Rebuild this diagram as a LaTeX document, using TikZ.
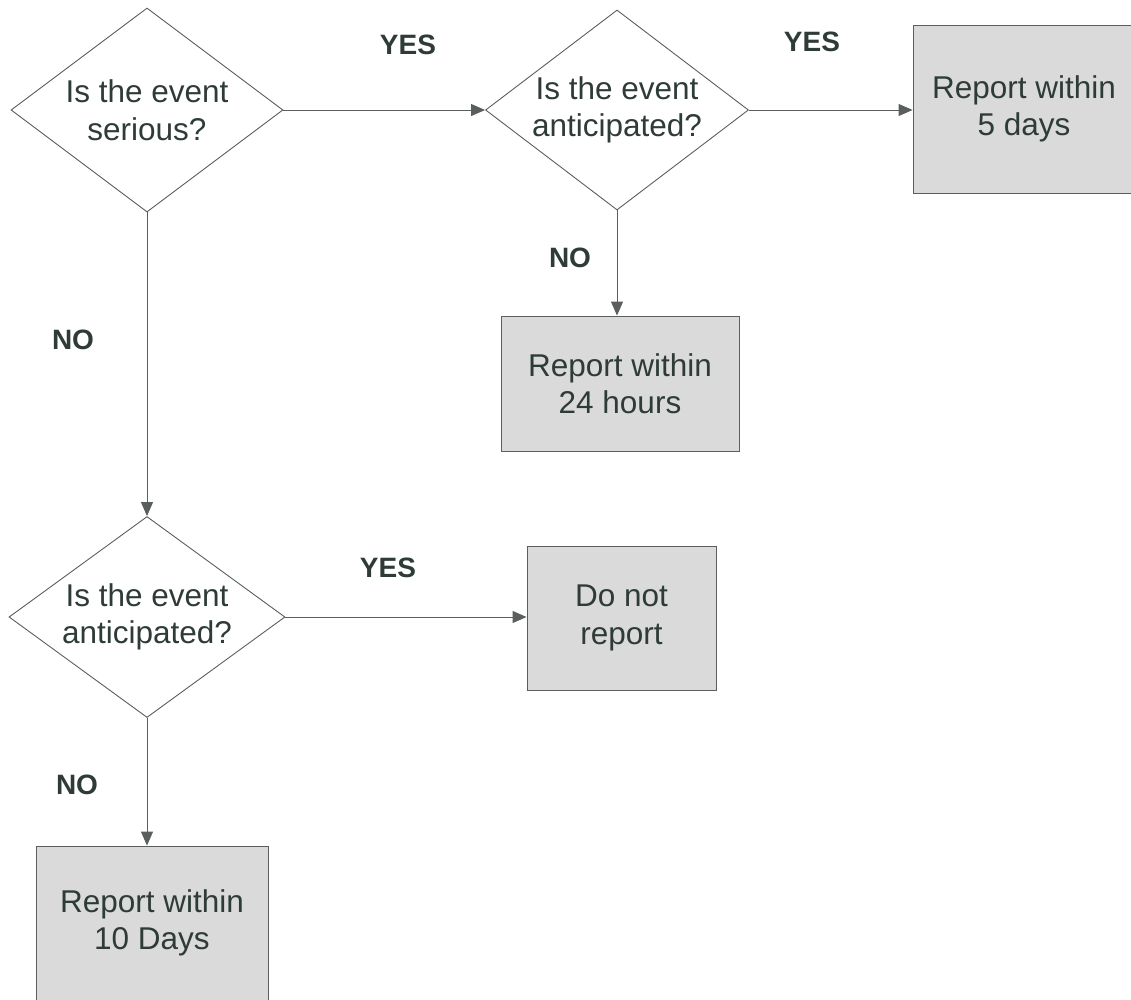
\documentclass[tikz,border=0pt]{standalone}
\usepackage{fontspec}
\setmainfont{Liberation Sans}
\usetikzlibrary{shapes.geometric,arrows.meta}
\definecolor{txt}{HTML}{2E3B36}
\definecolor{ln}{HTML}{5A5F5C}
\definecolor{boxfill}{HTML}{D9DAD9}
\tikzset{
  decision/.style={diamond, draw=ln, line width=0.9pt, inner sep=0pt, shape aspect=1.33,
    text=txt, align=center, font=\fontsize{31.5}{37.5}\selectfont},
  outcome/.style={rectangle, draw=ln, line width=0.9pt, fill=boxfill, inner sep=0pt,
    text=txt, align=center, font=\fontsize{31.5}{37.5}\selectfont},
  answer/.style={text=txt, font=\bfseries\fontsize{28}{32}\selectfont, inner sep=0pt},
  flow/.style={draw=ln, line width=1pt, -{Triangle[length=14pt,width=12pt]}}
}
\begin{document}
\begin{tikzpicture}[x=1pt,y=-1pt]
\useasboundingbox (0,0) rectangle (1131,999);
\begin{scope}
\clip (0,0) rectangle (1131,999);
\node[decision, minimum width=272, minimum height=204] (d1) at (147,110) {Is the event\\serious?};
\node[decision, minimum width=263, minimum height=200] (d2) at (617,110) {Is the event\\anticipated?};
\node[decision, minimum width=276, minimum height=201] (d3) at (147,617) {Is the event\\anticipated?};
\node[outcome, minimum width=222, minimum height=168] (r5) at (1024,109) {Report within\\5 days};
\node[outcome, minimum width=238, minimum height=135] (r24) at (620,383.5) {Report within\\24 hours};
\node[outcome, minimum width=189, minimum height=144] (dnr) at (621.5,618) {Do not\\report};
\node[outcome, minimum width=232, minimum height=154] (r10) at (152,923) {Report within\\10 Days};

\node[answer] (y1) at (408,45) {YES};
\node[answer] (y2) at (812,42) {YES};
\node[answer] (n1) at (570,258) {NO};
\node[answer] (n2) at (73,340) {NO};
\node[answer] (y3) at (388,568) {YES};
\node[answer] (n3) at (77,785) {NO};

\draw[flow] (d1.east) -- (d2.west);
\draw[flow] (d2.east) -- (r5.west |- d2.east);
\draw[flow] (d2.south) -- (d2.south |- r24.north);
\draw[flow] (d1.south) -- (d3.north);
\draw[flow] (d3.east) -- (dnr.west |- d3.east);
\draw[flow] (d3.south) -- (d3.south |- r10.north);
\end{scope}
\end{tikzpicture}
\end{document}
